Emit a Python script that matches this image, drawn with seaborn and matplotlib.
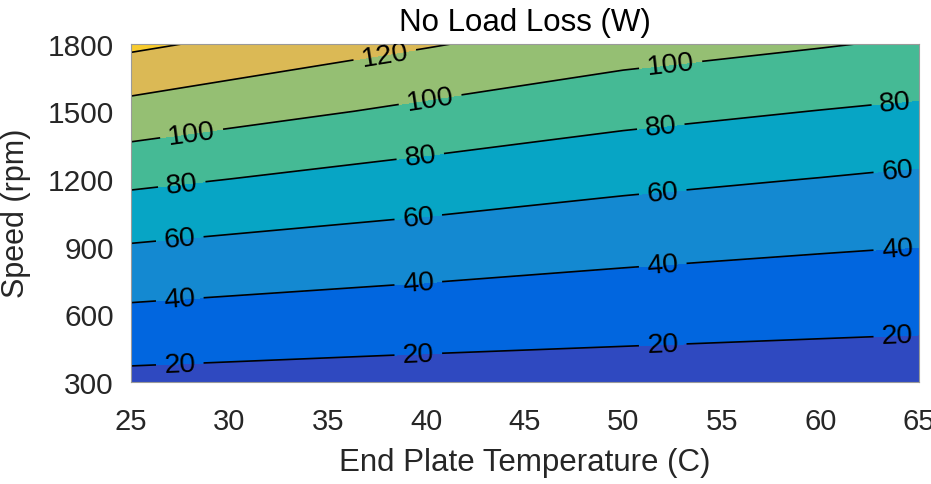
import numpy as np
import pandas as pd
import matplotlib
matplotlib.use("Agg")
import matplotlib.pyplot as plt
import seaborn as sns

# End plate temperature (C) and shaft speed (rpm) grid
temperature = [25, 40, 50, 60, 65]
speed = [300, 600, 900, 1200, 1500, 1800]

# No-load loss (W) at each speed, one list per temperature
loss_25 = [15.0, 36.1, 58.8, 84.2, 113.1, 144.1]
loss_40 = [12.3, 30.8, 50.6, 71.8, 95.8, 121.8]
loss_50 = [11.1, 28.0, 45.5, 64.8, 86.1, 109.0]
loss_60 = [9.9, 25.7, 41.7, 59.6, 79.6, 101.5]
loss_65 = [9.3, 24.7, 40.1, 56.8, 76.6, 97.7]

levels = [20, 40, 60, 80, 100, 120, 140]
xticks = [25, 30, 35, 40, 45, 50, 55, 60, 65]
yticks = [300, 600, 900, 1200, 1500, 1800]

# fill colour for each band, lowest first
band_colors = ["#2F49C0", "#0166DF", "#1489D1", "#07A5C5",
               "#45BA95", "#95BF73", "#DBB955", "#F8CB2E"]

# temperatures along each line where its value is written
label_temps = {
    20: [27.5, 39.6, 52.0, 63.9],
    40: [27.5, 39.6, 52.0, 63.9],
    60: [27.5, 39.6, 52.0, 63.9],
    80: [27.6, 39.7, 51.9, 63.8],
    100: [28.1, 40.2, 52.4],
    120: [37.9],
}

table = pd.DataFrame(
    dict(zip(temperature, [loss_25, loss_40, loss_50, loss_60, loss_65])),
    index=speed,
)

sns.set_theme(style="white")
plt.rcParams["font.family"] = ["Liberation Sans", "DejaVu Sans"]

W, H = 931, 485
fig = plt.figure(figsize=(W / 100, H / 100), dpi=100)
left, right, top, bottom = 130.5, 919, 44.5, 383
ax = fig.add_axes([left / W, 1 - bottom / H, (right - left) / W, (bottom - top) / H])

X, Y = np.meshgrid(table.columns.values.astype(float), table.index.values.astype(float))
Z = table.values

fill_levels = [-1e3] + levels + [1e3]
ax.contourf(X, Y, Z, levels=fill_levels, colors=band_colors)
cs = ax.contour(X, Y, Z, levels=levels, colors="black", linewidths=1.2)

# place labels on each line at the chosen temperatures
points = []
for lev, path in zip(cs.levels, cs.get_paths()):
    temps = label_temps.get(int(round(lev)), [])
    if not temps or len(path.vertices) == 0:
        continue
    for poly in path.to_polygons(closed_only=False):
        order = np.argsort(poly[:, 0])
        xs, ys = poly[order, 0], poly[order, 1]
        for t in temps:
            if xs[0] <= t <= xs[-1]:
                points.append((t, float(np.interp(t, xs, ys))))

ax.clabel(cs, inline=True, fontsize=20.5, fmt="%d", manual=points,
          inline_spacing=8, colors="black")

ax.set_xlim(25, 65)
ax.set_ylim(300, 1800)
ax.set_xticks(xticks)
ax.set_yticks(yticks)
ax.tick_params(axis="both", length=0, colors="#262626")
ax.tick_params(axis="x", pad=18, labelsize=21)
ax.tick_params(axis="y", pad=12, labelsize=21.5)

for s in ax.spines.values():
    s.set_color("#9a9a9a")
    s.set_linewidth(0.8)

ax.set_title("No Load Loss (W)", fontsize=22.5, color="black", pad=10)
ax.set_xlabel("End Plate Temperature (C)", fontsize=22.5, color="#262626", labelpad=9)
ax.set_ylabel("Speed (rpm)", fontsize=22, color="#262626", labelpad=12)

fig.savefig("out.png", dpi=100)
